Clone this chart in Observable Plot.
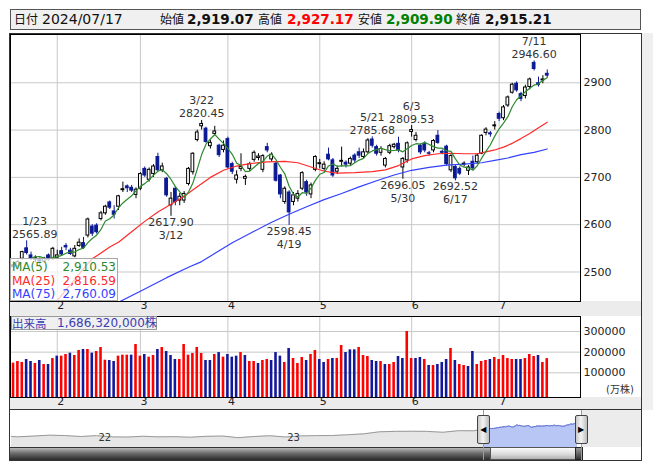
<!DOCTYPE html>
<html lang="ja"><head><meta charset="utf-8">
<script src="https://cdn.jsdelivr.net/npm/d3@7"></script>
<script src="https://cdn.jsdelivr.net/npm/@observablehq/plot@0.6"></script>
<style>
html,body{margin:0;padding:0;background:#fff;}
#wrap{position:relative;width:653px;height:470px;overflow:hidden;font-family:"DejaVu Sans","Noto Sans CJK JP",sans-serif;}
#wrap svg{overflow:visible;display:block;}
</style></head><body><div id="wrap"></div>
<script>
// ---------- data ----------
const dates = ["2024-01-18","2024-01-19","2024-01-22","2024-01-23","2024-01-24","2024-01-25","2024-01-26","2024-01-29","2024-01-30","2024-01-31",
"2024-02-01","2024-02-02","2024-02-05","2024-02-06","2024-02-07","2024-02-08","2024-02-09","2024-02-13","2024-02-14","2024-02-15","2024-02-16","2024-02-19","2024-02-20","2024-02-21","2024-02-22","2024-02-26","2024-02-27","2024-02-28","2024-02-29",
"2024-03-01","2024-03-04","2024-03-05","2024-03-06","2024-03-07","2024-03-08","2024-03-11","2024-03-12","2024-03-13","2024-03-14","2024-03-15","2024-03-18","2024-03-19","2024-03-21","2024-03-22","2024-03-25","2024-03-26","2024-03-27","2024-03-28","2024-03-29",
"2024-04-01","2024-04-02","2024-04-03","2024-04-04","2024-04-05","2024-04-08","2024-04-09","2024-04-10","2024-04-11","2024-04-12","2024-04-15","2024-04-16","2024-04-17","2024-04-18","2024-04-19","2024-04-22","2024-04-23","2024-04-24","2024-04-25","2024-04-26","2024-04-30",
"2024-05-01","2024-05-02","2024-05-07","2024-05-08","2024-05-09","2024-05-10","2024-05-13","2024-05-14","2024-05-15","2024-05-16","2024-05-17","2024-05-20","2024-05-21","2024-05-22","2024-05-23","2024-05-24","2024-05-27","2024-05-28","2024-05-29","2024-05-30","2024-05-31",
"2024-06-03","2024-06-04","2024-06-05","2024-06-06","2024-06-07","2024-06-10","2024-06-11","2024-06-12","2024-06-13","2024-06-14","2024-06-17","2024-06-18","2024-06-19","2024-06-20","2024-06-21","2024-06-24","2024-06-25","2024-06-26","2024-06-27","2024-06-28",
"2024-07-01","2024-07-02","2024-07-03","2024-07-04","2024-07-05","2024-07-08","2024-07-09","2024-07-10","2024-07-11","2024-07-12","2024-07-16","2024-07-17"];

const open = [2515,2512,2528,2550,2535,2526,2527,2522,2535,2528,
2530,2544,2555,2545,2533,2555,2561,2577,2596,2598,2612,2624,2647,2628,2638,2673,2681,2678,2663,
2676,2718,2695,2707,2743,2715,2697,2641,2676,2651,2651,2686,2711,2779,2808,2803,2766,2792,2767,2758,
2781,2728,2695,2718,2697,2718,2737,2741,2716,2764,2738,2729,2704,2648,2668,2648,2655,2676,2690,2664,2716,
2728,2718,2748,2736,2712,2733,2731,2729,2746,2753,2743,2753,2780,2764,2752,2725,2752,2764,2771,2721,2736,
2796,2779,2767,2770,2751,2757,2788,2754,2765,2715,2722,2718,2727,2714,2733,2732,2750,2794,2793,2808,
2834,2825,2852,2879,2898,2876,2872,2891,2942,2899,2905,2919.07];

const high = [2522,2524,2544,2565.89,2542,2534,2530,2531,2538,2552,
2546,2552,2560,2550,2556,2570,2573,2614,2600,2602,2628,2641,2650,2640,2662,2690,2684,2683,2678,
2710,2722,2720,2727,2751,2730,2700,2668,2680,2666,2670,2721,2752,2800,2820.45,2806,2779,2808,2770,2777,
2785,2732,2714,2750,2705,2732,2756,2750,2748,2772,2752,2732,2706,2680,2672,2668,2672,2712,2694,2688,2746,
2738,2733,2762,2740,2724,2764,2735,2743,2750,2762,2760,2782,2785.68,2768,2765,2742,2770,2772,2785,2742,2775,
2809.53,2795,2770,2775,2755,2780,2799,2758,2768,2748,2725,2722,2733,2725,2745,2750,2790,2805,2797,2818,
2838,2852,2872,2899,2902,2880,2895,2910,2946.60,2912,2915,2927.17];

const low = [2502,2508,2525,2536,2524,2520,2512,2518,2523,2524,
2526,2534,2545,2535,2530,2552,2548,2572,2575,2580,2608,2620,2632,2612,2630,2668,2668,2668,2655,
2672,2700,2690,2700,2712,2710,2658,2617.90,2640,2640,2645,2682,2705,2775,2800,2772,2760,2788,2742,2752,
2718,2706,2686,2712,2683,2712,2732,2735,2710,2752,2733,2690,2655,2643,2598.45,2640,2648,2672,2660,2655,2712,
2718,2713,2735,2700,2706,2722,2720,2725,2730,2740,2738,2750,2762,2745,2745,2720,2748,2760,2752,2696.05,2730,
2785,2775,2748,2752,2745,2752,2770,2748,2724,2710,2692.52,2704,2722,2704,2715,2728,2748,2788,2785,2800,
2818,2820,2848,2876,2880,2860,2866,2885,2925,2891,2898,2909.90];

const close = [2510,2521,2542,2540,2528,2530,2522,2528,2526,2549,
2535,2537,2552,2538,2549,2562,2551,2611,2581,2584,2624,2638,2636,2621,2660,2675,2677,2672,2674,
2707,2704,2716,2723,2715,2723,2662,2655,2648,2659,2665,2718,2750,2795,2813,2775,2773,2797,2747,2767,
2721,2712,2704,2722,2701,2728,2752,2744,2745,2757,2748,2693,2664,2676,2626,2662,2665,2709,2668,2683,2743,
2730,2727,2738,2704,2718,2735,2727,2739,2736,2746,2753,2778,2767,2750,2760,2739,2766,2769,2757,2739,2772,
2800,2788,2753,2757,2750,2777,2773,2752,2728,2745,2698,2708,2729,2721,2719,2746,2788,2801,2791,2810,
2824,2848,2869,2896,2884,2866,2890,2907,2929.17,2895,2907,2915.21];

// volume in 万株
const volume = [146700,154700,150000,164400,154700,145000,159600,140200,140200,169000,
180600,180600,188600,195000,183800,208000,212800,212800,195000,203000,
222500,161000,159600,154700,180600,185400,185400,185400,237000,180600,
188600,175700,183800,212800,222500,203000,183800,164400,164400,237000,
185400,193500,222500,193500,159600,159600,188600,198000,175700,188600,
175700,180600,198000,183800,154700,154700,145000,159600,164400,159600,
198000,180600,150000,
217700,169300,145000,174100,159600,188600,208000,164400,150000,164400,
169300,169300,232200,198300,211200,211200,222500,183800,179000,159600,
154700,154700,140200,140200,150000,179000,169300,300000,169300,169300,
174100,164400,135400,135400,140200,150000,164400,217700,159600,140200,
135400,130500,203200,140200,154700,159600,164400,174100,164400,183800,
169300,164400,164400,164400,169300,188600,179000,183800,150000,168632];
// 1 = up day (red), 0 = down day (blue)
const volDir = [1,1,1,0,0,1,0,1,0,1, 0,1,1,0,1,1,0,1,0,1, 1,1,0,0,1,1,1,0,1,1, 0,1,1,0,1,0,0,0,1,1,
1,1,1,1,0,0,1,0,1,0, 0,0,1,0,1,1,0,1,1,0, 0,0,1,
0,1,1,1,0,1,1,0,0,1, 0,1,1,0,0,0,1,1,1,0, 0,1,0,1,1,0,0,1,1,0, 0,1,0,1,0,0,0,1,0,1,
1,0,0,1,1,1,0,1,1,1, 1,1,0,0,1,1,1,0,1,1];

// moving averages
const ma25Dates = ["2024-01-30","2024-02-01","2024-02-05","2024-02-07","2024-02-09","2024-02-14","2024-02-16","2024-02-20","2024-02-22","2024-02-28","2024-03-04","2024-03-07","2024-03-12","2024-03-15","2024-03-21","2024-03-26","2024-03-29","2024-04-03","2024-04-08","2024-04-12","2024-04-18","2024-04-23","2024-04-26","2024-05-02","2024-05-09","2024-05-15","2024-05-21","2024-05-24","2024-05-29","2024-06-03","2024-06-06","2024-06-11","2024-06-14","2024-06-19","2024-06-24","2024-06-26","2024-06-28","2024-07-02","2024-07-04","2024-07-08","2024-07-10","2024-07-12","2024-07-17"];
const ma25Values = [2418,2440,2462,2484,2507,2528,2540,2553,2563,2585,2607,2627,2643,2660,2680,2700,2715,2724,2729,2733,2734,2731,2722,2713,2709,2710,2712,2716,2725,2739,2746,2750,2751,2750,2750,2754,2758,2764,2772,2782,2793,2805,2816.59];
const ma75Dates = ["2024-02-20","2024-02-22","2024-03-04","2024-03-11","2024-03-18","2024-03-22","2024-03-28","2024-04-02","2024-04-09","2024-04-15","2024-04-19","2024-04-25","2024-05-02","2024-05-10","2024-05-16","2024-05-22","2024-05-28","2024-06-03","2024-06-07","2024-06-13","2024-06-19","2024-06-25","2024-06-28","2024-07-03","2024-07-08","2024-07-11","2024-07-17"];
const ma75Values = [2425,2436,2464,2488,2510,2522,2545,2562,2586,2605,2622,2638,2653,2666,2680,2693,2705,2715,2721,2726,2728,2731,2736,2741,2748,2753,2760.09];
const maLegend = [
  {name: "MA(5)", value: 2910.53, color: "#2d8a2d"},
  {name: "MA(25)", value: 2816.59, color: "#ff2a2a"},
  {name: "MA(75)", value: 2760.09, color: "#3340ff"}
];

// annotated highs and lows
const highNoteDates = ["2024-01-23","2024-03-22","2024-05-21","2024-06-03","2024-07-11"];
const lowNoteDates = ["2024-03-12","2024-04-19","2024-05-30","2024-06-17"];

const priceTicks = [2500, 2600, 2700, 2800, 2900];
const volTicks = [100000, 200000, 300000];

// navigator: longer history (month ends) before the window
const navDates = ["2021-07-19","2021-07-30","2021-08-31","2021-09-30","2021-10-29","2021-11-30","2021-12-30","2022-01-31","2022-02-28","2022-03-31","2022-04-28","2022-05-31","2022-06-30","2022-07-29","2022-08-31","2022-09-30","2022-10-31","2022-11-30","2022-12-30","2023-01-31","2023-02-28","2023-03-31","2023-04-28","2023-05-31","2023-06-30","2023-07-31","2023-08-31","2023-09-29","2023-10-31","2023-11-30","2023-12-29"];
const navValues = [1935,1901,1961,2030,2001,1928,1992,1896,1887,1946,1900,1913,1871,1940,1963,1836,1929,1986,1892,1975,1993,2004,2057,2131,2289,2323,2332,2323,2254,2375,2366];
const navYears = ["2022-01-01","2023-01-01"];

// ---------- derived tables ----------
const idx = new Map(dates.map((d, i) => [d, i]));
const rows = dates.map((d, i) => ({i, date: d, o: open[i], h: high[i], l: low[i], c: close[i], v: volume[i], up: volDir[i] === 1}));
const monthStarts = rows.filter((r, k) => k > 0 && r.date.slice(5, 7) !== rows[k - 1].date.slice(5, 7)).map(r => r.i);
const ma25 = ma25Dates.map((d, k) => ({i: idx.get(d), v: ma25Values[k]}));
const ma75 = ma75Dates.map((d, k) => ({i: idx.get(d), v: ma75Values[k]}));
const md = d => `${+d.slice(5, 7)}/${+d.slice(8, 10)}`;
const highNotes = highNoteDates.map(d => rows[idx.get(d)]);
const lowNotes = lowNoteDates.map(d => rows[idx.get(d)]);

const DOWN = "#0b1a94", UP = "#ffffff";
const xDomain = [-0.69, 129.6];
const font = "DejaVu Sans";
const noteSize = 11;

const wrap = document.getElementById("wrap");
function add(el, left, top) { el.style.position = "absolute"; el.style.left = left + "px"; el.style.top = top + "px"; wrap.appendChild(el); return el; }
function box(left, top, w, h, css) { const d = document.createElement("div"); d.style.cssText = css || ""; d.style.width = w + "px"; d.style.height = h + "px"; d.style.boxSizing = "border-box"; return add(d, left, top); }
function span(parent, left, text, css) { const s = document.createElement("span"); s.textContent = text; s.style.cssText = "position:absolute;white-space:nowrap;top:0;line-height:18px;left:" + left + "px;" + (css || ""); parent.appendChild(s); return s; }

// ---------- background strips ----------
box(10, 301, 631, 15, "background:#ececec;");
box(10, 397, 631, 13, "background:#ececec;");
box(641, 33, 12, 377, "background:#efefef;");
box(581, 410, 60, 37, "background:#ececec;");

// ---------- price chart ----------
const price = Plot.plot({
  width: 631, height: 282, marginTop: 0, marginBottom: 15, marginLeft: 0, marginRight: 61,
  style: {background: "transparent", fontFamily: font, fontSize: "11px", color: "#222"},
  x: {domain: xDomain, axis: null},
  y: {domain: [2437.6, 3002.1], axis: null},
  color: {type: "identity"},
  marks: [
    Plot.frame({fill: "#fff", stroke: "none"}),
    Plot.ruleY(priceTicks, {stroke: "#c8c8c8"}),
    Plot.ruleX(monthStarts, {stroke: "#c8c8c8"}),
    Plot.ruleX(rows, {x: "i", y1: "l", y2: "h", stroke: d => d.c >= d.o ? "#000" : DOWN, strokeWidth: 1}),
    Plot.rect(rows, {x1: d => d.i - 0.5, x2: d => d.i + 0.5, y1: "o", y2: "c", insetLeft: 0.8, insetRight: 0.8,
      fill: d => d.c >= d.o ? UP : DOWN, stroke: d => d.c >= d.o ? "#000" : DOWN, strokeWidth: 1}),
    Plot.line(ma75, {x: "i", y: "v", stroke: "#3340ff", strokeWidth: 1.2, clip: true}),
    Plot.line(ma25, {x: "i", y: "v", stroke: "#ff2a2a", strokeWidth: 1.2, clip: true}),
    Plot.line(rows, Plot.windowY({k: 5, anchor: "end", strict: true, reduce: "mean"}, {x: "i", y: "c", stroke: "#2d8a2d", strokeWidth: 1.2, clip: true})),
    Plot.text(highNotes.filter(d => d.i > 5), {x: "i", y: "h", text: d => d.h.toFixed(2), dy: -6.5, fontSize: noteSize, fill: "#333"}),
    Plot.text(highNotes.filter(d => d.i > 5), {x: "i", y: "h", text: d => md(d.date), dy: -19.5, fontSize: noteSize, fill: "#333"}),
    Plot.text(highNotes.filter(d => d.i <= 5), {x: "i", y: "h", text: d => d.h.toFixed(2), dy: -6.5, dx: 8, fontSize: noteSize, fill: "#333"}),
    Plot.text(highNotes.filter(d => d.i <= 5), {x: "i", y: "h", text: d => md(d.date), dy: -19.5, dx: 8, fontSize: noteSize, fill: "#333"}),
    Plot.text(lowNotes, {x: "i", y: "l", text: d => d.l.toFixed(2), dy: 6, fontSize: noteSize, fill: "#333"}),
    Plot.text(lowNotes, {x: "i", y: "l", text: d => md(d.date), dy: 19, fontSize: noteSize, fill: "#333"}),
    Plot.axisY(priceTicks, {anchor: "right", tickSize: 0, tickPadding: 3, tickFormat: d3.format("d"), label: null, fontSize: 11}),
    Plot.axisX(monthStarts, {anchor: "bottom", tickSize: 0, tickPadding: 0, tickFormat: i => String(+dates[i].slice(5, 7)), textAnchor: "start", label: null, fontSize: 11}),
    Plot.frame({stroke: "#000"})
  ]
});
add(price, 10, 34);

// ---------- MA legend ----------
const leg = box(10, 258, 108, 43, "background:rgba(255,255,255,0.72);border:1px solid #a8a8a8;font-size:12px;");
maLegend.forEach((m, k) => {
  const r = document.createElement("div");
  r.style.cssText = `position:absolute;left:1px;top:${1 + k * 13.6}px;width:104px;height:14px;line-height:14px;color:${m.color};font-family:${font};`;
  r.innerHTML = `<span>${m.name}</span><span style="position:absolute;right:0">${d3.format(",.2f")(m.value)}</span>`;
  leg.appendChild(r);
});

// ---------- volume chart ----------
const volBase = -19600;
const vol = Plot.plot({
  width: 631, height: 94, marginTop: 0, marginBottom: 13, marginLeft: 0, marginRight: 61,
  style: {background: "transparent", fontFamily: font, fontSize: "11px", color: "#222"},
  x: {domain: xDomain, axis: null},
  y: {domain: [volBase, 372600], axis: null},
  color: {type: "identity"},
  marks: [
    Plot.frame({fill: "#fff", stroke: "none"}),
    Plot.ruleY(volTicks, {stroke: "#c8c8c8"}),
    Plot.ruleX(monthStarts, {stroke: "#c8c8c8"}),
    Plot.rect(rows, {x1: d => d.i - 0.5, x2: d => d.i + 0.5, y1: volBase, y2: "v", insetLeft: 0.9, insetRight: 0.9, fill: d => d.up ? "#ff0000" : "#12189a"}),
    Plot.axisY(volTicks, {anchor: "right", tickSize: 0, tickPadding: 3, tickFormat: d3.format("d"), label: null, fontSize: 11}),
    Plot.axisX(monthStarts, {anchor: "bottom", tickSize: 0, tickPadding: 0, tickFormat: i => String(+dates[i].slice(5, 7)), textAnchor: "start", label: null, fontSize: 11}),
    Plot.frame({stroke: "#000"})
  ]
});
add(vol, 10, 316);
const unit = box(606, 384, 34, 12, `font-size:10px;line-height:12px;color:#333;font-family:${font},"Noto Sans CJK JP";`);
unit.textContent = "(万株)";
const last = rows[rows.length - 1];
const vl = box(11, 316, 146, 14, `background:rgba(238,238,238,0.9);border:1px solid #999;font-size:12px;line-height:12px;color:#3c3cb4;white-space:nowrap;font-family:${font},"Noto Sans CJK JP";`);
vl.innerHTML = `<span style="font-family:'Noto Sans CJK JP';font-size:11.5px">出来高</span><span style="position:absolute;left:45px">${d3.format(",")(last.v * 10000)}株</span>`;

// ---------- navigator ----------
const navRows = navDates.map((d, k) => ({date: new Date(d), value: navValues[k]})).concat(rows.map(r => ({date: new Date(r.date), value: r.c})));
const winRows = rows.map(r => ({date: new Date(r.date), value: r.c}));
const navMin = 1080;
const nav = Plot.plot({
  width: 631, height: 37, marginTop: 0, marginBottom: 0, marginLeft: 0, marginRight: 64,
  style: {background: "transparent", fontFamily: font, fontSize: "10px", color: "#333"},
  x: {type: "utc", domain: [new Date("2021-07-17"), new Date("2024-07-17")], axis: null},
  y: {domain: [navMin, 3930], axis: null},
  marks: [
    Plot.areaY(navRows, {x: "date", y1: navMin, y2: "value", fill: "#e6e6e6"}),
    Plot.lineY(navRows, {x: "date", y: "value", stroke: "#999", strokeWidth: 1}),
    Plot.areaY(winRows, {x: "date", y1: navMin, y2: "value", fill: "#b7c6f4"}),
    Plot.lineY(winRows, {x: "date", y: "value", stroke: "#5867d6", strokeWidth: 1}),
    Plot.text(navYears, {x: d => new Date(d), text: d => d.slice(2, 4), frameAnchor: "bottom", dy: -7, textAnchor: "start", dx: 1, fill: "#333", fontSize: 10})
  ]
});
add(nav, 10, 410);
const nx = nav.scale("x");
const x0 = 10 + nx.apply(new Date(dates[0]));
const x1 = 10 + nx.apply(new Date(dates[dates.length - 1]));

// scrollbar
box(10, 447, x1 + 6 - 10, 13, "background:linear-gradient(#b8b8b8,#6a6a6a 45%,#2a2a2a);border-top:1px solid #333;");
box(x0 + 7, 447, x1 - x0 - 8, 13, "background:linear-gradient(#fbfbfb,#d8d8d8 60%,#b0b0b0);border:1px solid #555;");
box(x1 - 2, 447, 8, 13, "background:linear-gradient(#999,#333);border:1px solid #222;");

// handles
[x0, x1 + 4].forEach((cx, k) => {
  box(cx - 0.5, 410, 1, 50, "background:#3cc0e8;");
  const h = box(cx - 6.5, 415, 13, 29, "background:linear-gradient(90deg,#c8c8c8,#f4f4f4 45%,#bdbdbd);border:1px solid #444;border-radius:2px;font-size:8px;line-height:27px;text-align:center;color:#000;");
  h.textContent = k === 0 ? "◀" : "▶";
});

// ---------- header ----------
const hdr = box(10, 9, 631, 21, "background:#f0f0f0;border:1px solid #555;color:#111;");
const cjk = "font-family:'Noto Sans CJK JP';font-size:12px;";
const num = `font-family:${font};font-size:13.5px;font-weight:bold;`;
const f2 = d3.format(",.2f");
span(hdr, 3, "日付", cjk);
span(hdr, 31, last.date.replace(/-/g, "/"), `font-family:${font};font-size:14px;`);
span(hdr, 149, "始値", cjk);
span(hdr, 176, f2(last.o), num);
span(hdr, 247, "高値", cjk);
span(hdr, 276, f2(last.h), num + "color:#ff0000;");
span(hdr, 347, "安値", cjk);
span(hdr, 375, f2(last.l), num + "color:#008000;");
span(hdr, 445, "終値", cjk);
span(hdr, 474, f2(last.c), num);

// ---------- frame lines ----------
box(9, 33, 633, 428, "border:1px solid #333;");
box(10, 409, 631, 1, "background:#333;");
</script>
</body></html>
